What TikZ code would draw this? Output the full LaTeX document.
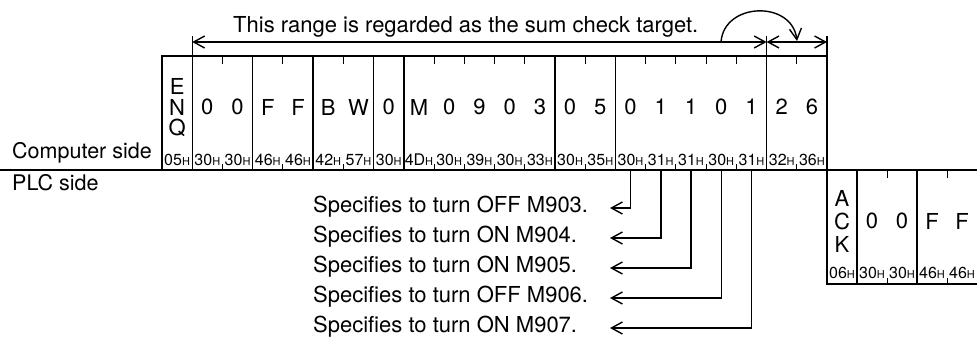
\documentclass[tikz,border=0pt]{standalone}
\usepackage{fontspec}
\setmainfont{TeX Gyre Heros}
\usetikzlibrary{arrows.meta,positioning}

\newcommand{\hexcode}[1]{#1{\fontsize{11}{11}\selectfont H}}
\def\cw{30.23}

\begin{document}
\begin{tikzpicture}[
  x=1pt, y=-1pt,
  >={Straight Barb[length=11pt,width=12pt]},
  frame line/.style={line width=1.4pt},
  tick line/.style={line width=1pt},
  cell char/.style={font=\fontsize{22}{22}\selectfont, inner sep=0pt},
  hex label/.style={font=\fontsize{16}{16}\selectfont, inner sep=0pt},
  side label/.style={font=\fontsize{21.5}{22}\selectfont, anchor=base west, inner sep=0pt},
  note/.style={font=\fontsize{22}{22}\selectfont, anchor=base west, inner sep=0pt}
]
  \useasboundingbox (0,0) rectangle (977,338);

  % Title and the range arrows above the computer frame
  \node[note] (title) at (233,32) {This range is regarded as the sum check target.};
  \coordinate (r0) at (192.2,42);
  \coordinate (r1) at (766.6,42);
  \coordinate (r2) at (827,42);
  \foreach \r in {r0,r1,r2}
    \draw[frame line] ([yshift=-15pt]\r) -- ([yshift=6pt]\r);
  \draw[frame line,<->] (r0) -- (r1);
  \draw[frame line,<->] (r1) -- (r2);
  \coordinate (bend start) at (721,42);
  \coordinate (bend end) at (797,41);
  \draw[frame line,->] (bend start) .. controls (724,2) and (792,0) .. (bend end);

  % Computer side frame
  \node[side label] (computer) at (12,158) {Computer side};
  \node[side label] (plc) at (12,190) {PLC side};
  \draw[line width=1.8pt] (0,170) -- (977,170);
  \draw[frame line] (162,170) -- (162,56) -- (827,56) -- (827,170);
  \foreach \k in {1,3,5,7,8,13,15,20}
    \draw[frame line] ({162+\k*\cw},56) -- ({162+\k*\cw},170);
  \foreach \k in {2,4,6,9,10,11,12,14,16,17,18,19,21} {
    \draw[tick line] ({162+\k*\cw},56) -- ({162+\k*\cw},64);
    \draw[tick line] ({162+\k*\cw},170) -- ({162+\k*\cw},164);
  }
  \foreach \ch [count=\i] in {,0,0,F,F,B,W,0,M,0,9,0,3,0,5,0,1,1,0,1,2,6} {
    \node[cell char] (c\i) at ({162+(\i-0.5)*\cw},107) {\ch};
    \coordinate (b\i) at ({162+(\i-0.5)*\cw},170);
  }
  \foreach \hx [count=\i] in {05,30,30,46,46,42,57,30,4D,30,39,30,33,30,35,30,31,31,30,31,32,36}
    \node[hex label] (h\i) at ({162+(\i-0.5)*\cw},160) {\hexcode{\hx}};
  \node[cell char] (enq e) at ({162+0.5*\cw},86) {E};
  \node[cell char] (enq n) at ({162+0.5*\cw},107) {N};
  \node[cell char] (enq q) at ({162+0.5*\cw},128) {Q};

  % PLC side frame
  \draw[frame line] (827,170) -- (827,284) -- (977,284);
  \draw[frame line] (857,170) -- (857,284);
  \draw[frame line] (917,170) -- (917,284);
  \foreach \x in {887,947} {
    \draw[tick line] (\x,170) -- (\x,178);
    \draw[tick line] (\x,284) -- (\x,278);
  }
  \node[cell char] (ack a) at (842,198) {A};
  \node[cell char] (ack c) at (842,221) {C};
  \node[cell char] (ack k) at (842,244) {K};
  \foreach \ch/\x [count=\i] in {0/872,0/902,F/932,F/962}
    \node[cell char] (p\i) at (\x,221) {\ch};
  \foreach \hx/\x [count=\i] in {06/842,30/872,30/902,46/932,46/962}
    \node[hex label] (ph\i) at (\x,273) {\hexcode{\hx}};

  % Notes on the five device bits
  \foreach \txt [count=\j] in {Specifies to turn OFF M903.,Specifies to turn ON M904.,
      Specifies to turn ON M905.,Specifies to turn OFF M906.,Specifies to turn ON M907.} {
    \node[note] (n\j) at (313,{182+30*\j}) {\txt};
    \coordinate (t\j) at (610,{178+30*\j});
  }
  \draw[frame line,->] (b16) |- (t1);
  \draw[frame line,->] (b17) |- (t2);
  \draw[frame line,->] (b18) |- (t3);
  \draw[frame line,->] (b19) |- (t4);
  \draw[frame line,->] (b20) |- (t5);
\end{tikzpicture}
\end{document}
